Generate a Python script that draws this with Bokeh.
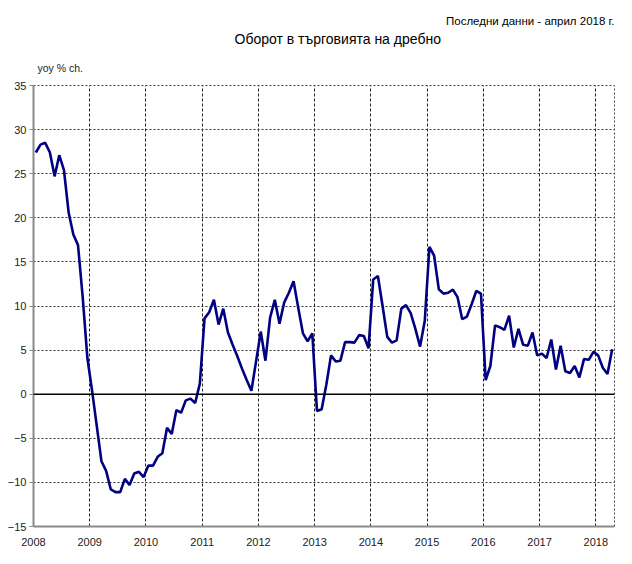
from bokeh.plotting import figure
from bokeh.models import FixedTicker, Title, Span
from bokeh.embed import file_html
from bokeh.resources import INLINE

# ---- data ----
start_year = 2008
tick_years = [2008, 2009, 2010, 2011, 2012, 2013, 2014, 2015, 2016, 2017, 2018]
y_ticks = [-15, -10, -5, 0, 5, 10, 15, 20, 25, 30, 35]

# Retail trade turnover, yoy % change, monthly Jan 2008 - Apr 2018
yoy = [
    27.4, 28.3, 28.5, 27.4, 24.7, 27.1, 25.4, 20.6, 18.1, 16.9, 11.0, 4.1,      # 2008
    0.4, -3.6, -7.6, -8.7, -10.8, -11.1, -11.1, -9.6, -10.3, -9.0, -8.8, -9.4,  # 2009
    -8.1, -8.1, -7.1, -6.7, -3.8, -4.5, -1.8, -2.1, -0.7, -0.5, -1.0, 1.2,      # 2010
    8.6, 9.3, 10.7, 7.9, 9.7, 7.0, 5.6, 4.3, 2.9, 1.6, 0.4, 3.7,                # 2011
    7.1, 3.8, 8.7, 10.7, 8.0, 10.4, 11.5, 12.8, 9.8, 6.9, 6.0, 6.9,             # 2012
    -1.9, -1.7, 1.1, 4.4, 3.7, 3.8, 5.9, 5.9, 5.85, 6.7, 6.6, 5.2,              # 2013
    13.0, 13.4, 10.0, 6.5, 5.85, 6.1, 9.7, 10.1, 9.2, 7.4, 5.4, 8.3,            # 2014
    16.7, 15.7, 11.9, 11.4, 11.5, 11.85, 11.0, 8.5, 8.8, 10.2, 11.7, 11.4,      # 2015
    1.6, 3.2, 7.8, 7.6, 7.3, 8.9, 5.3, 7.4, 5.6, 5.5, 7.0, 4.4,                 # 2016
    4.6, 4.1, 6.2, 2.8, 5.5, 2.6, 2.4, 3.2, 1.9, 4.0, 3.9, 4.8,                 # 2017
    4.4, 3.0, 2.3, 5.1,                                                         # 2018
]

title_text = "Оборот в търговията на дребно"
note_text = "Последни данни - април 2018 г."
unit_text = "yoy % ch."

x = [start_year + (i + 0.5) / 12 for i in range(len(yoy))]

FONT = "Liberation Sans"

p = figure(width=615, height=548, output_backend="svg", toolbar_location=None,
           title=None,
           x_range=(2008, 2018.333), y_range=(-15, 35),
           min_border_left=33, min_border_right=1, min_border_top=85, min_border_bottom=18)

p.background_fill_color = "white"
p.border_fill_color = "white"
p.outline_line_color = "#444"
p.outline_line_dash = "2 2"
p.outline_line_width = 1

# axes
p.xaxis.ticker = FixedTicker(ticks=tick_years)
p.xaxis.major_label_overrides = {t: str(t) for t in tick_years}
p.xaxis.major_tick_line_color = None
p.xaxis.minor_tick_line_color = None
p.xaxis.axis_line_color = "#8a8a8a"
p.xaxis.axis_line_width = 2
p.xaxis.major_label_standoff = 5

p.yaxis.ticker = FixedTicker(ticks=y_ticks)
p.yaxis.major_tick_out = 4
p.yaxis.major_tick_in = 0
p.yaxis.major_tick_line_color = "#8a8a8a"
p.yaxis.minor_tick_line_color = None
p.yaxis.axis_line_color = "#8a8a8a"
p.yaxis.axis_line_width = 2
p.yaxis.major_label_standoff = 3

for ax in (p.xaxis, p.yaxis):
    ax.major_label_text_font = FONT
    ax.major_label_text_font_size = "11px"
    ax.major_label_text_color = "#222222"

# grids
p.xgrid.ticker = FixedTicker(ticks=tick_years)
p.xgrid.grid_line_color = "#222222"
p.xgrid.grid_line_dash = "3 2"
p.xgrid.grid_line_width = 1
p.ygrid.ticker = FixedTicker(ticks=y_ticks)
p.ygrid.grid_line_color = "#333333"
p.ygrid.grid_line_dash = "2 2"
p.ygrid.grid_line_width = 1.2

p.add_layout(Span(location=0, dimension="width", line_color="black", line_width=1.5))

p.line(x, yoy, line_color="#000080", line_width=2.6)

# texts as stacked titles above the frame (first = closest to frame)
p.add_layout(Title(text=unit_text, align="left", offset=4, standoff=24,
                   text_font=FONT, text_font_size="10.5px", text_font_style="normal",
                   text_color="#222222"), "above")
p.add_layout(Title(text=title_text, align="left", offset=201, standoff=2,
                   text_font=FONT, text_font_size="14px", text_font_style="normal",
                   text_color="black"), "above")
p.add_layout(Title(text=note_text, align="right", offset=0, standoff=1,
                   text_font=FONT, text_font_size="11.5px", text_font_style="normal",
                   text_color="black"), "above")

open("out.html", "w").write(file_html(p, INLINE))
